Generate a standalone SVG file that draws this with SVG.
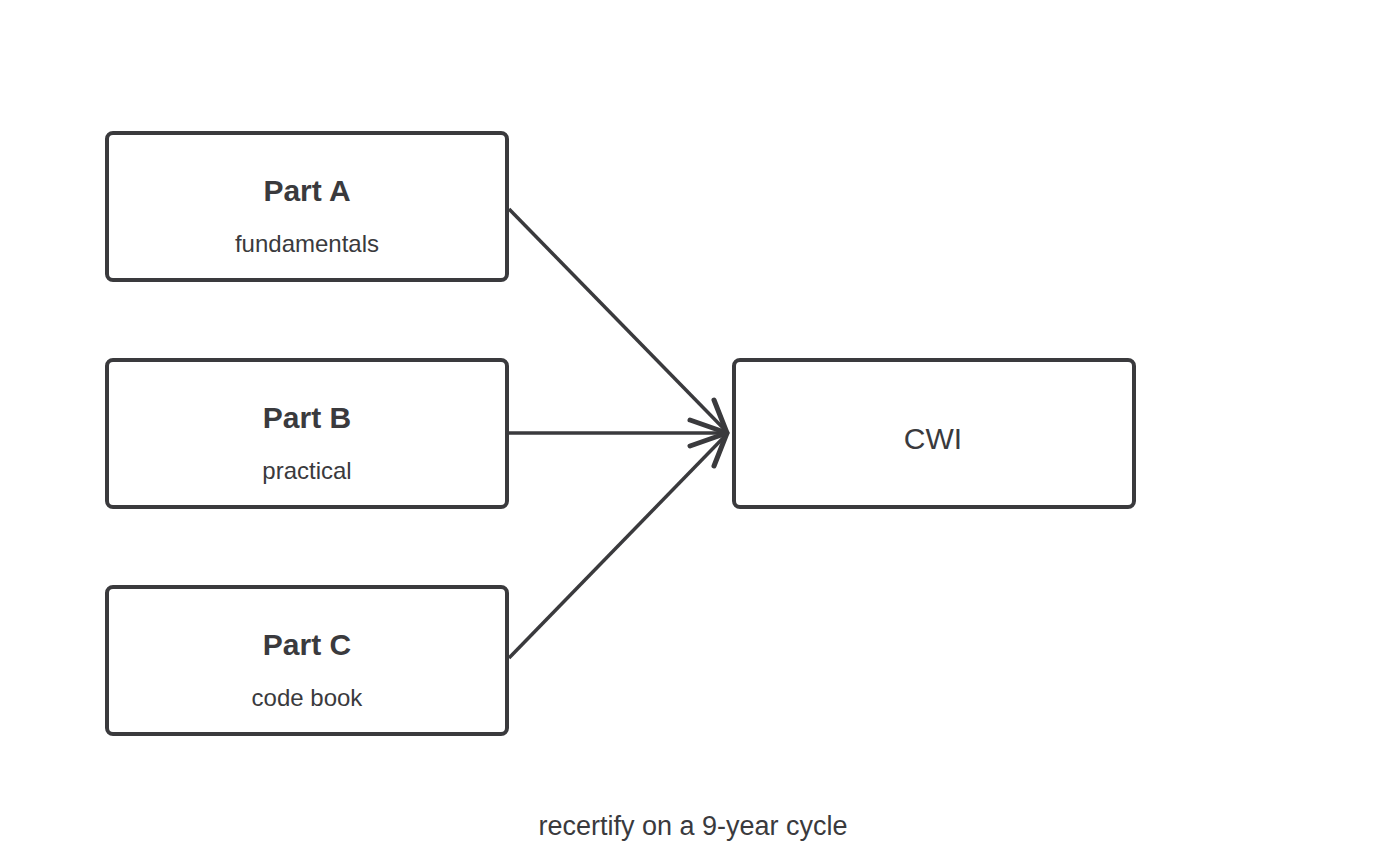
<svg xmlns="http://www.w3.org/2000/svg" width="1387" height="867" viewBox="0 0 1387 867">
<style>
.box{fill:#fff;stroke:#3a3a3d;stroke-width:4}
.t{font-family:"Comic Sans MS","Liberation Sans",sans-serif;fill:#3a3a3d;text-anchor:middle}
.h{font-size:30px;font-weight:bold}
.s{font-size:24px}
.c{stroke:#3a3a3d;stroke-width:3.5;fill:none}
.hd{stroke:#3a3a3d;stroke-width:5;fill:none;stroke-linecap:round;stroke-linejoin:round}
</style>
<rect width="1387" height="867" fill="#fff"/>
<g id="connectors">
<path class="c" d="M509,209 L727,432"/>
<path class="c" d="M509,433 L727,433"/>
<path class="c" d="M509,658 L727,434"/>
<path class="hd" d="M714,400 L727,433 L714,466"/>
<path class="hd" d="M690,420 L727,433 L690,446"/>
</g>
<g id="partA"><rect class="box" x="107" y="133" width="400" height="147" rx="6"/>
<text class="t h" x="307" y="201">Part A</text><text class="t s" x="307" y="252">fundamentals</text></g>
<g id="partB"><rect class="box" x="107" y="360" width="400" height="147" rx="6"/>
<text class="t h" x="307" y="428">Part B</text><text class="t s" x="307" y="479">practical</text></g>
<g id="partC"><rect class="box" x="107" y="587" width="400" height="147" rx="6"/>
<text class="t h" x="307" y="655">Part C</text><text class="t s" x="307" y="706">code book</text></g>
<g id="cwi"><rect class="box" x="734" y="360" width="400" height="147" rx="6"/>
<text class="t" x="933" y="449" font-size="30">CWI</text></g>
<text class="t" x="693" y="835" font-size="27">recertify on a 9-year cycle</text>
</svg>
